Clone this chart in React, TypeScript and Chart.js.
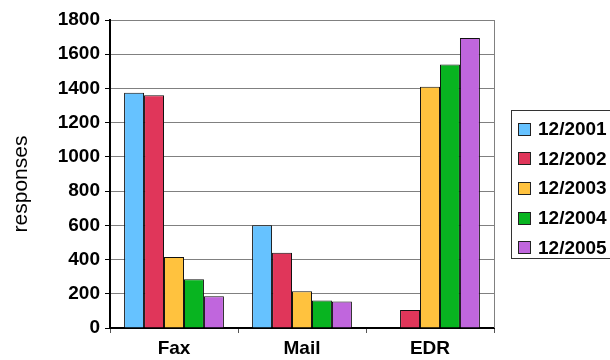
import React, { useEffect, useRef } from "react";
import { Chart, registerables } from "chart.js";

Chart.register(...registerables);

const categories = ["Fax", "Mail", "EDR"];
const seriesLabels = ["12/2001", "12/2002", "12/2003", "12/2004", "12/2005"];
const s2001 = [1375, 600, 0];
const s2002 = [1360, 440, 105];
const s2003 = [415, 215, 1410];
const s2004 = [285, 160, 1540];
const s2005 = [185, 155, 1695];
const seriesValues = [s2001, s2002, s2003, s2004, s2005];
const seriesColors = ["#66C2FF", "#E0365A", "#FFC23E", "#08B420", "#C066DD"];
const yTitle = "responses";

const frameAndTitle = {
  id: "frameAndTitle",
  afterDraw(chart: any) {
    const { ctx, chartArea } = chart;
    ctx.save();
    ctx.strokeStyle = "#808080";
    ctx.lineWidth = 1;
    ctx.beginPath();
    ctx.moveTo(chartArea.right + 0.5, chartArea.top);
    ctx.lineTo(chartArea.right + 0.5, chartArea.bottom);
    ctx.stroke();
    ctx.translate(21, 184);
    ctx.rotate(-Math.PI / 2);
    ctx.fillStyle = "#000";
    ctx.font = "21px 'Liberation Sans', Arial, sans-serif";
    ctx.textAlign = "center";
    ctx.textBaseline = "middle";
    ctx.fillText(yTitle, 0, 0);
    ctx.restore();
  },
};

export default function App() {
  const ref = useRef<HTMLCanvasElement | null>(null);
  useEffect(() => {
    if (!ref.current) return;
    const chart = new Chart(ref.current, {
      type: "bar",
      data: {
        labels: categories,
        datasets: seriesValues.map((vals, i) => ({
          label: seriesLabels[i],
          data: vals,
          backgroundColor: seriesColors[i],
          borderColor: "#111",
          borderWidth: 1,
          categoryPercentage: 0.78,
          barPercentage: 1,
        })),
      },
      options: {
        animation: false,
        responsive: false,
        maintainAspectRatio: false,
        layout: { padding: { top: 20, right: 116, left: 0, bottom: 0 } },
        plugins: { legend: { display: false }, tooltip: { enabled: false } },
        scales: {
          x: {
            offset: true,
            grid: {
              offset: true,
              drawOnChartArea: false,
              drawTicks: true,
              tickLength: 5,
              color: "#000",
              tickColor: "#555",
            },
            border: { color: "#000", width: 2 },
            ticks: {
              color: "#000",
              padding: 4,
              font: { family: "'Liberation Sans', Arial, sans-serif", size: 19, weight: "bold" },
            },
            afterFit(scale: any) {
              scale.height = 32;
            },
          },
          y: {
            min: 0,
            max: 1800,
            ticks: {
              stepSize: 200,
              color: "#000",
              padding: 5,
              font: { family: "'Liberation Sans', Arial, sans-serif", size: 19, weight: "bold" },
              callback: (v: any) => String(v),
            },
            grid: { color: "#808080", lineWidth: 1, tickLength: 5, tickColor: "#000" },
            border: { color: "#000", width: 2 },
            afterFit(scale: any) {
              scale.width = 110;
            },
          },
        },
      },
      plugins: [frameAndTitle],
    });
    return () => chart.destroy();
  }, []);

  return (
    <div style={{ position: "fixed", left: 0, top: 0, width: 610, height: 360, overflow: "hidden", background: "#fff" }}>
      <canvas ref={ref} width={610} height={360} style={{ position: "absolute", left: 0, top: 0 }} />
      <div
        style={{
          position: "absolute",
          left: 511,
          top: 110,
          width: 130,
          height: 149,
          border: "1px solid #333",
          boxSizing: "border-box",
          fontFamily: "'Liberation Sans', Arial, sans-serif",
          fontWeight: "bold",
          fontSize: 19,
          color: "#000",
        }}
      >
        {seriesLabels.map((lab, i) => (
          <div
            key={lab}
            style={{ position: "absolute", left: 6, top: 6 + i * 29.7, height: 24, display: "flex", alignItems: "center", whiteSpace: "nowrap" }}
          >
            <span
              style={{
                display: "inline-block",
                width: 11,
                height: 11,
                background: seriesColors[i],
                border: "1px solid #222",
                marginRight: 7,
              }}
            />
            <span>{lab}</span>
          </div>
        ))}
      </div>
    </div>
  );
}
